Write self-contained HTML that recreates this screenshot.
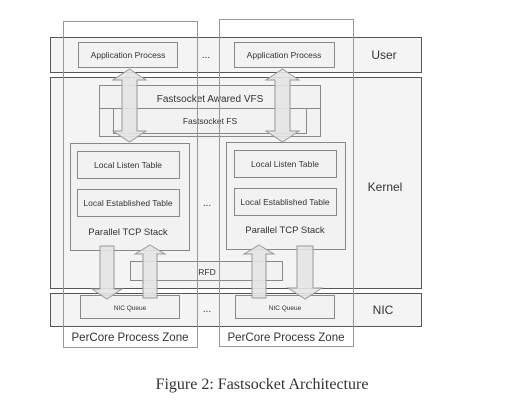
<!DOCTYPE html>
<html><head><style>
html,body{margin:0;padding:0;background:#fff;}
svg{display:block;}
text{font-family:"Liberation Sans",Arial,sans-serif;fill:#333;}
</style></head><body>
<svg width="524" height="409" viewBox="0 0 524 409" xmlns="http://www.w3.org/2000/svg">
<rect x="50.5" y="37.5" width="371" height="35" fill="#f4f4f4" stroke="#555"/>
<rect x="50.5" y="77.5" width="371" height="211" fill="#f4f4f4" stroke="#555"/>
<rect x="50.5" y="293.5" width="371" height="33" fill="#f4f4f4" stroke="#555"/>
<text x="384" y="59" font-size="12" text-anchor="middle" fill="#111">User</text>
<text x="385" y="191" font-size="12" text-anchor="middle" fill="#111">Kernel</text>
<text x="383" y="314" font-size="12" text-anchor="middle" fill="#111">NIC</text>
<rect x="78.5" y="42.5" width="99" height="25" fill="#f2f2f2" stroke="#888"/>
<text x="128" y="58" font-size="8.5" text-anchor="middle">Application Process</text>
<rect x="234.5" y="42.5" width="100" height="25" fill="#f2f2f2" stroke="#888"/>
<text x="284" y="58" font-size="8.5" text-anchor="middle">Application Process</text>
<text x="206" y="58" font-size="10" text-anchor="middle">...</text>
<rect x="99.5" y="85.5" width="221" height="51" fill="#f2f2f2" stroke="#888"/>
<line x1="99.5" y1="108.5" x2="320.5" y2="108.5" stroke="#888"/>
<text x="210" y="102" font-size="10" text-anchor="middle">Fastsocket Awared VFS</text>
<rect x="113.5" y="108.5" width="193" height="25" fill="#f2f2f2" stroke="#888"/>
<text x="210" y="124" font-size="8.5" text-anchor="middle">Fastsocket FS</text>
<rect x="70.5" y="143.5" width="119" height="107" fill="#f2f2f2" stroke="#888"/>
<rect x="77.5" y="151.5" width="102" height="27" fill="#f2f2f2" stroke="#888"/>
<text x="128" y="168" font-size="8.5" text-anchor="middle">Local Listen Table</text>
<rect x="77.5" y="189.5" width="102" height="27" fill="#f2f2f2" stroke="#888"/>
<text x="128" y="206" font-size="8.5" text-anchor="middle">Local Established Table</text>
<text x="128" y="235" font-size="9.5" text-anchor="middle">Parallel TCP Stack</text>
<rect x="226.5" y="142.5" width="119" height="107" fill="#f2f2f2" stroke="#888"/>
<rect x="234.5" y="150.5" width="102" height="27" fill="#f2f2f2" stroke="#888"/>
<text x="285" y="167" font-size="8.5" text-anchor="middle">Local Listen Table</text>
<rect x="234.5" y="188.5" width="102" height="27" fill="#f2f2f2" stroke="#888"/>
<text x="285" y="205" font-size="8.5" text-anchor="middle">Local Established Table</text>
<text x="285" y="233" font-size="9.5" text-anchor="middle">Parallel TCP Stack</text>
<text x="207" y="206" font-size="10" text-anchor="middle">...</text>
<rect x="130.5" y="261.5" width="152" height="19" fill="#f2f2f2" stroke="#888"/>
<text x="207" y="275" font-size="8.5" text-anchor="middle" fill="#111">RFD</text>
<rect x="80.5" y="295.5" width="99" height="23" fill="#f2f2f2" stroke="#888"/>
<text x="130" y="310" font-size="6.5" text-anchor="middle">NIC Queue</text>
<rect x="235.5" y="295.5" width="99" height="23" fill="#f2f2f2" stroke="#888"/>
<text x="285" y="310" font-size="6.5" text-anchor="middle">NIC Queue</text>
<text x="207" y="312" font-size="10" text-anchor="middle">...</text>
<g fill="#e4e4e4" fill-opacity="0.9" stroke="#999">
<polygon points="129.5,69 146,80 137,80 137,131 146,131 129.5,142 113,131 122,131 122,80 113,80"/>
<polygon points="282.5,69 299,80 290,80 290,131 299,131 282.5,142 266,131 275,131 275,80 266,80"/>
<polygon points="100,246 114,246 114,289 122,289 107,299 92,289 100,289"/>
<polygon points="150,245 165,254 157,254 157,298 143,298 143,254 135,254"/>
<polygon points="259,245 274,254 266,254 266,298 252,298 252,254 244,254"/>
<polygon points="297,246 313,246 313,288 322,288 305,299 288,288 297,288"/>
</g>
<rect x="63.5" y="21.5" width="134" height="326" fill="none" stroke="#999"/>
<rect x="219.5" y="19.5" width="134" height="327" fill="none" stroke="#999"/>
<text x="130" y="341" font-size="11.5" text-anchor="middle" fill="#111">PerCore Process Zone</text>
<text x="286" y="341" font-size="11.5" text-anchor="middle" fill="#111">PerCore Process Zone</text>
<text x="262" y="389" font-size="16" text-anchor="middle" fill="#111" style="font-family:'Liberation Serif',serif">Figure 2: Fastsocket Architecture</text>
</svg>
</body></html>
